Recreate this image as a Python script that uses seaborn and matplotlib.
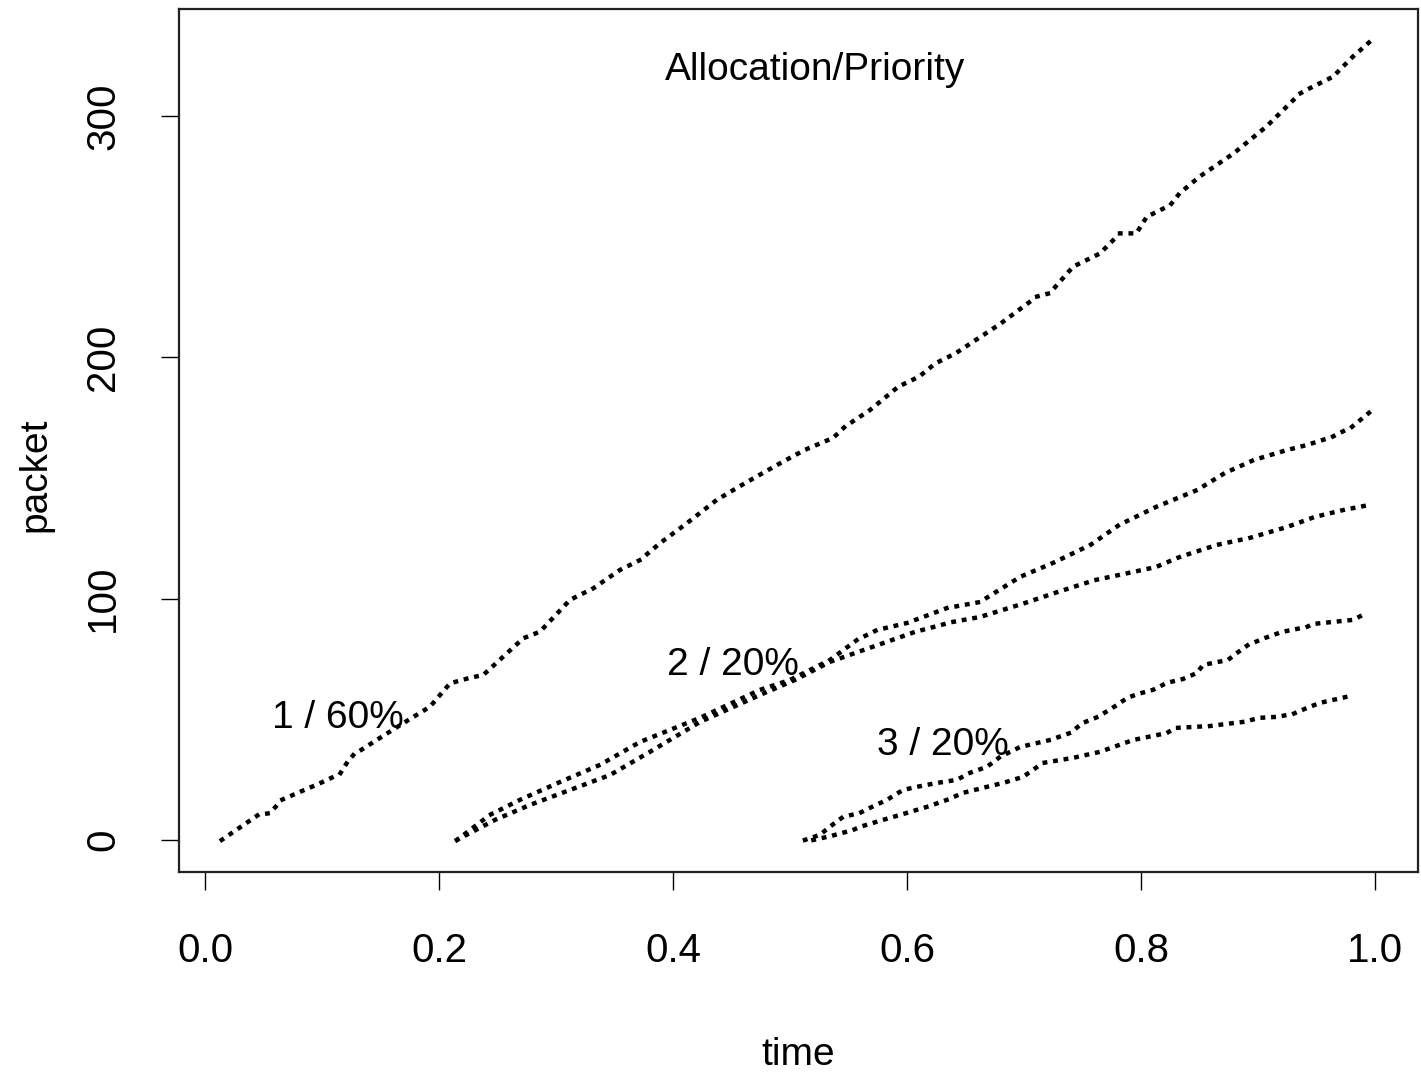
import pandas as pd
import numpy as np
import seaborn as sns
import matplotlib.pyplot as plt

# packet arrival curves (time, cumulative packet)
flow1_time = [0.0143, 0.0456, 0.0556, 0.0655, 0.0783, 0.0983, 0.1154, 0.1211, 0.1268, 0.1467,
              0.1695, 0.1923, 0.2094, 0.2251, 0.2379, 0.255, 0.2721, 0.2863, 0.312, 0.3319,
              0.3547, 0.3718, 0.3889, 0.4117, 0.4373, 0.462, 0.4915, 0.5124, 0.5368, 0.547,
              0.5684, 0.5927, 0.6103, 0.6242, 0.6416, 0.68, 0.711, 0.722, 0.742, 0.765,
              0.782, 0.796, 0.805, 0.825, 0.833, 0.850, 0.879, 0.907, 0.936, 0.944,
              0.964, 0.981, 0.996]
flow1_packet = [0, 10.4, 11.1, 16.6, 19.3, 23.5, 27.4, 31.8, 35.2, 41.4,
                48.4, 55.2, 64.9, 67.0, 68.4, 76.0, 83.6, 86.3, 99.5, 104.3,
                111.9, 116.0, 123.0, 131.2, 140.9, 148.0, 156.1, 161.6, 166.6, 171.3,
                178.2, 187.9, 192.0, 197.5, 201.7, 214.0, 225.2, 226.6, 237.6, 243.1,
                251.4, 251.4, 258.3, 263.1, 268.0, 274.9, 284.5, 295.6, 309.4, 311.5,
                316.3, 324.6, 331.0]

flow2a_time = [0.2154, 0.2436, 0.2692, 0.3034, 0.3376, 0.3718, 0.4231, 0.4744, 0.5, 0.5342,
               0.5573, 0.5744, 0.6, 0.6342, 0.6624, 0.6966, 0.7248, 0.7569, 0.7812, 0.8128,
               0.8479, 0.8718, 0.8966, 0.9248, 0.9419, 0.9632, 0.9803, 0.9949]
flow2a_packet = [0, 10.4, 16.6, 24.0, 31.1, 40.6, 50.6, 62.2, 66.3, 74.6,
                 82.9, 87.0, 89.9, 96.1, 98.6, 109.0, 114.8, 122.3, 130.5, 138.0,
                 145.0, 152.1, 157.5, 161.6, 163.7, 167.0, 171.2, 177.0]

flow2b_time = [0.2154, 0.2479, 0.2778, 0.312, 0.3462, 0.3803, 0.4231, 0.4744, 0.5043, 0.5342,
               0.5752, 0.6068, 0.6385, 0.6624, 0.7009, 0.7291, 0.7607, 0.7812, 0.8128, 0.8333,
               0.8650, 0.8932, 0.9248, 0.9487, 0.9735, 0.9949]
flow2b_packet = [0, 8.3, 14.5, 20.7, 26.9, 36.5, 48.9, 60.1, 66.3, 73.8,
                 80.8, 86.2, 90.3, 92.4, 98.2, 102.8, 107.7, 109.8, 113.1, 117.3,
                 122.3, 125.2, 129.7, 133.9, 136.8, 138.8]

flow3a_time = [0.5128, 0.5256, 0.5342, 0.5453, 0.5598, 0.5684, 0.5829, 0.5966, 0.6085, 0.6256,
               0.6427, 0.6538, 0.6684, 0.6795, 0.6966, 0.7222, 0.7393, 0.7504, 0.7632, 0.7795,
               0.7880, 0.7974, 0.8103, 0.8222, 0.8359, 0.8479, 0.8530, 0.8744, 0.8821, 0.8915,
               0.9060, 0.9205, 0.9419, 0.9470, 0.9812, 0.9932]
flow3a_packet = [0, 2.1, 5.5, 9.5, 11.2, 13.3, 16.6, 20.7, 22.0, 23.6,
                 24.9, 27.8, 30.3, 34.4, 38.5, 41.4, 44.3, 48.5, 51.0, 55.9,
                 58.8, 60.5, 62.2, 65.1, 66.7, 69.2, 72.5, 74.6, 77.5, 80.8,
                 83.7, 86.2, 88.3, 89.5, 91.2, 94.1]

flow3b_time = [0.5200, 0.5342, 0.5538, 0.5598, 0.5795, 0.6000, 0.6171, 0.6342, 0.6479, 0.6684,
               0.6821, 0.6991, 0.7162, 0.7419, 0.7650, 0.7932, 0.8222, 0.8291, 0.8590, 0.8735,
               0.8872, 0.9017, 0.9162, 0.9299, 0.9419, 0.9530, 0.9758, 0.9769]
flow3b_packet = [0, 1.5, 4.1, 5.4, 8.3, 11.2, 13.7, 16.6, 19.5, 22.0,
                 23.6, 26.1, 31.9, 34.0, 36.5, 41.4, 44.3, 46.4, 47.2, 48.1,
                 48.9, 50.6, 51.0, 52.2, 54.7, 56.8, 59.3, 60.9]

labels = ["1 / 60%", "2 / 20%", "3 / 20%"]

frames = []
for name, t, p in [("1", flow1_time, flow1_packet), ("2a", flow2a_time, flow2a_packet),
                   ("2b", flow2b_time, flow2b_packet), ("3a", flow3a_time, flow3a_packet),
                   ("3b", flow3b_time, flow3b_packet)]:
    frames.append(pd.DataFrame({"time": t, "packet": p, "flow": name}))
df = pd.concat(frames).reset_index(drop=True)

sns.set_style("white")
plt.rcParams['font.family'] = ['Liberation Sans', 'DejaVu Sans']
plt.rcParams['text.color'] = 'black'
plt.rcParams['axes.labelcolor'] = 'black'

fig = plt.figure(figsize=(14.21, 10.74), dpi=100)
ax = fig.add_axes([0.126, 0.1881, 0.8719, 0.8035])

sns.lineplot(data=df, x="time", y="packet", units="flow", estimator=None, color="black",
             linewidth=3.2, linestyle=(0, (0.1, 2.3)), dash_capstyle="projecting",
             sort=False, ax=ax)

ax.set_xlim(-0.0222, 1.0368)
ax.set_ylim(-13.3, 344.4)
ax.set_xticks([0.0, 0.2, 0.4, 0.6, 0.8, 1.0])
ax.set_xticklabels(["0.0", "0.2", "0.4", "0.6", "0.8", "1.0"])
ax.set_yticks([0, 100, 200, 300])
ax.set_yticklabels(["0", "100", "200", "300"], rotation=90, va="center")
ax.tick_params(axis="both", direction="out", length=13, width=1, colors="black",
               labelsize=29, left=True, bottom=True)
ax.tick_params(axis="x", pad=30)
ax.tick_params(axis="y", pad=28)
for sp in ax.spines.values():
    sp.set_visible(True)
    sp.set_color("#222222")
    sp.set_linewidth(1.6)

ax.set_xlabel("time", fontsize=28)
ax.set_ylabel("packet", fontsize=28)
ax.xaxis.set_label_coords(0.5, -0.212)
ax.xaxis.label.set_va("center")
ax.yaxis.set_label_coords(-0.116, 0.46)
ax.yaxis.label.set_va("center")

ax.text(0.5214, 319.1, "Allocation/Priority", fontsize=28, ha="center", va="center")
ax.text(0.1137, 50.6, labels[0], fontsize=28, ha="center", va="center")
ax.text(0.4513, 72.5, labels[1], fontsize=28, ha="center", va="center")
ax.text(0.6308, 39.4, labels[2], fontsize=28, ha="center", va="center")

fig.savefig("out.png", dpi=100)
